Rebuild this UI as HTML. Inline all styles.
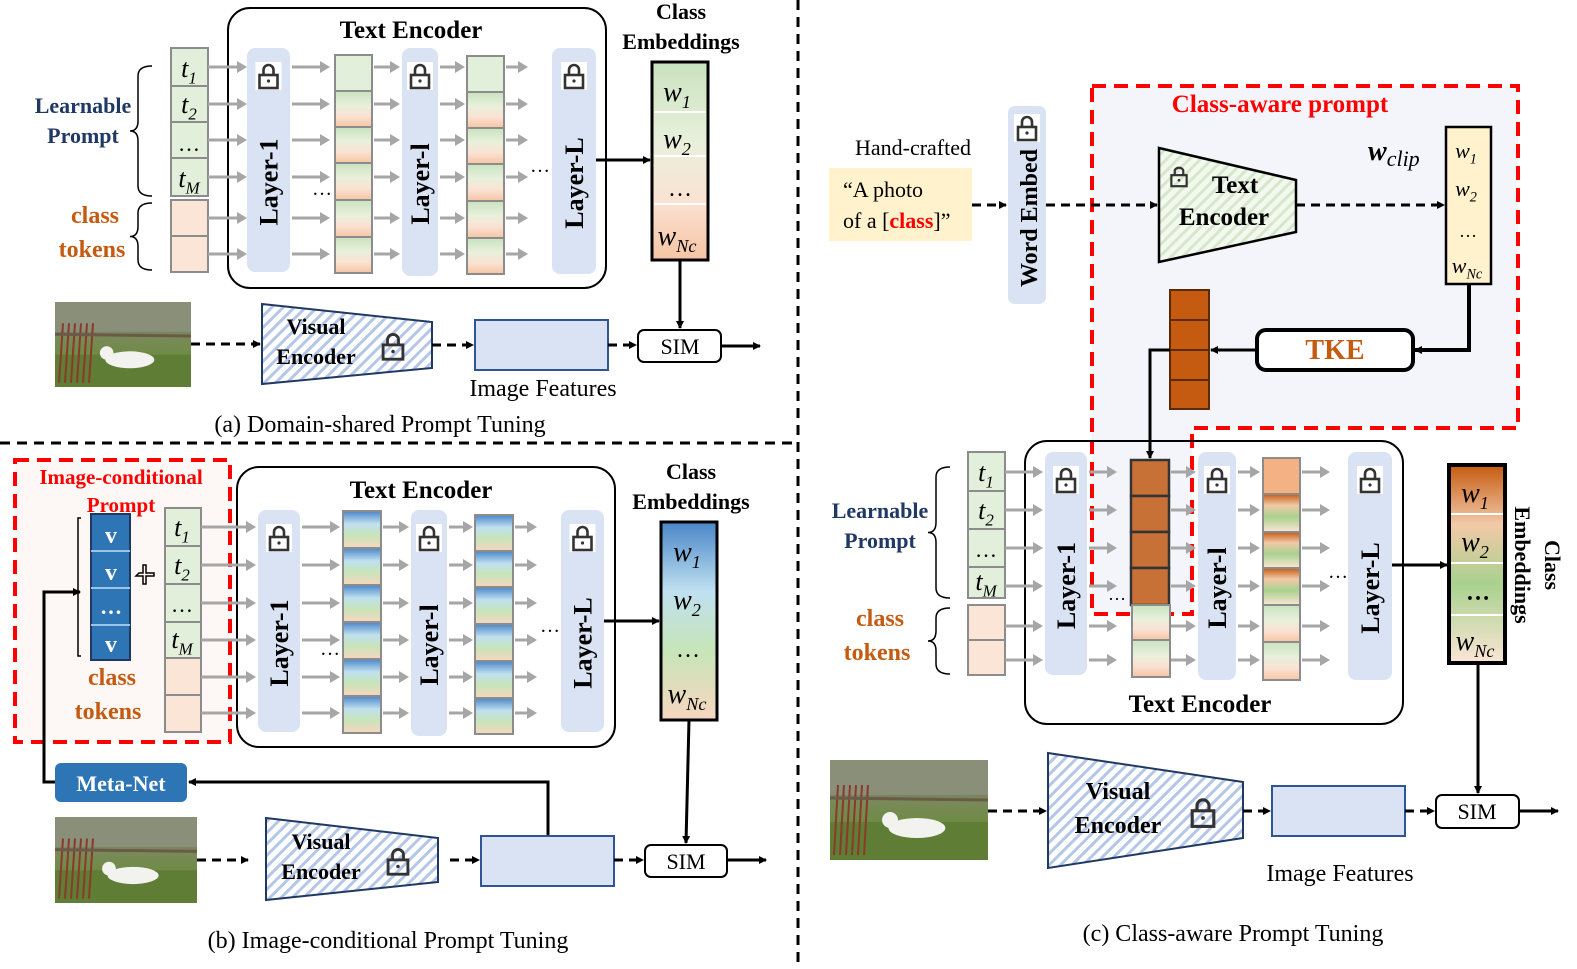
<!DOCTYPE html>
<html><head><meta charset="utf-8"><style>
html,body{margin:0;padding:0;background:#fff;}
svg{display:block;font-family:"Liberation Serif",serif;}
.b{font-weight:bold;}
</style></head><body>
<svg id="s" width="1577" height="969" viewBox="0 0 1577 969" xmlns="http://www.w3.org/2000/svg">
<defs>
<linearGradient id="gp" x1="0" y1="0" x2="0" y2="1"><stop offset="0" stop-color="#c9e3bf"/><stop offset="0.4" stop-color="#e8f0dc"/><stop offset="0.7" stop-color="#fbe2d2"/><stop offset="1" stop-color="#f6c4a4"/></linearGradient>
<linearGradient id="gb" x1="0" y1="0" x2="0" y2="1"><stop offset="0" stop-color="#4a86c8"/><stop offset="0.35" stop-color="#bfe0f0"/><stop offset="0.65" stop-color="#c7e5b8"/><stop offset="1" stop-color="#f7d6c0"/></linearGradient>
<linearGradient id="gr" x1="0" y1="0" x2="0" y2="1"><stop offset="0" stop-color="#c55a11"/><stop offset="0.3" stop-color="#f2c9a8"/><stop offset="0.6" stop-color="#a9d18e"/><stop offset="1" stop-color="#fbe5d6"/></linearGradient>
<pattern id="hb" width="8" height="8" patternUnits="userSpaceOnUse" patternTransform="rotate(45)"><rect width="8" height="8" fill="#fff"/><rect width="3" height="8" fill="#b4c7e7"/></pattern>
<pattern id="hg" width="8" height="8" patternUnits="userSpaceOnUse" patternTransform="rotate(45)"><rect width="8" height="8" fill="#f4f9f0"/><rect width="3" height="8" fill="#d5e8cc"/></pattern>
<linearGradient id="ph" x1="0" y1="0" x2="0" y2="1"><stop offset="0" stop-color="#5a6a4a"/><stop offset="0.4" stop-color="#7a8a5a"/><stop offset="0.7" stop-color="#6b8a3e"/><stop offset="1" stop-color="#4f6b2e"/></linearGradient>
<marker id="ma" markerWidth="8" markerHeight="8" refX="7" refY="4" orient="auto" markerUnits="userSpaceOnUse"><path d="M0,0 L8,4 L0,8 z" fill="#000"/></marker>
</defs>
<g id="g"></g>

<line x1="798" y1="0" x2="798" y2="969" stroke="#000" stroke-width="3" stroke-dasharray="10,7"/>
<line x1="0" y1="443" x2="798" y2="443" stroke="#000" stroke-width="3" stroke-dasharray="10,7"/>

<path d="M1092,86 L1518,86 L1518,428 L1192,428 L1192,614 L1092,614 Z" fill="#f3f5fb" stroke="#ff0000" stroke-width="4" stroke-dasharray="14,8"/>
<rect x="15" y="460" width="215" height="282" fill="#fdf7f5" stroke="#ff0000" stroke-width="4" stroke-dasharray="14,8"/>

<g id="g2"></g>

<text x="411" y="38" font-size="25" class="b" text-anchor="middle">Text Encoder</text>
<text x="681" y="19" font-size="22" class="b" text-anchor="middle">Class</text>
<text x="681" y="49" font-size="22" class="b" text-anchor="middle">Embeddings</text>
<text x="83" y="113" font-size="22" class="b" fill="#1f3864" text-anchor="middle">Learnable</text>
<text x="83" y="143" font-size="22" class="b" fill="#1f3864" text-anchor="middle">Prompt</text>
<text x="95" y="223" font-size="24" class="b" fill="#c55a11" text-anchor="middle">class</text>
<text x="92" y="257" font-size="24" class="b" fill="#c55a11" text-anchor="middle">tokens</text>
<text x="316" y="334" font-size="22" class="b" text-anchor="middle">Visual</text>
<text x="316" y="364" font-size="22" class="b" text-anchor="middle">Encoder</text>
<text x="680" y="354" font-size="22" text-anchor="middle">SIM</text>
<text x="543" y="396" font-size="24" text-anchor="middle">Image Features</text>
<text x="380" y="432" font-size="24" text-anchor="middle">(a) Domain-shared Prompt Tuning</text>

<text x="421" y="498" font-size="25" class="b" text-anchor="middle">Text Encoder</text>
<text x="691" y="479" font-size="22" class="b" text-anchor="middle">Class</text>
<text x="691" y="509" font-size="22" class="b" text-anchor="middle">Embeddings</text>
<text x="121" y="484" font-size="21" class="b" fill="#ff0000" text-anchor="middle">Image-conditional</text>
<text x="121" y="512" font-size="21" class="b" fill="#ff0000" text-anchor="middle">Prompt</text>
<text x="112" y="685" font-size="24" class="b" fill="#c55a11" text-anchor="middle">class</text>
<text x="108" y="719" font-size="24" class="b" fill="#c55a11" text-anchor="middle">tokens</text>
<text x="321" y="849" font-size="22" class="b" text-anchor="middle">Visual</text>
<text x="321" y="879" font-size="22" class="b" text-anchor="middle">Encoder</text>
<text x="686" y="869" font-size="22" text-anchor="middle">SIM</text>
<text x="388" y="948" font-size="24" text-anchor="middle">(b) Image-conditional Prompt Tuning</text>

<text x="1280" y="112" font-size="25" class="b" fill="#ff0000" text-anchor="middle">Class-aware prompt</text>
<text x="913" y="155" font-size="22" text-anchor="middle">Hand-crafted</text>
<text x="1235" y="193" font-size="25" class="b" text-anchor="middle">Text</text>
<text x="1224" y="225" font-size="25" class="b" text-anchor="middle">Encoder</text>
<text x="1335" y="359" font-size="28" class="b" fill="#c55a11" text-anchor="middle">TKE</text>
<text x="1200" y="712" font-size="25" class="b" text-anchor="middle">Text Encoder</text>
<text x="880" y="518" font-size="22" class="b" fill="#1f3864" text-anchor="middle">Learnable</text>
<text x="880" y="548" font-size="22" class="b" fill="#1f3864" text-anchor="middle">Prompt</text>
<text x="880" y="626" font-size="24" class="b" fill="#c55a11" text-anchor="middle">class</text>
<text x="877" y="660" font-size="24" class="b" fill="#c55a11" text-anchor="middle">tokens</text>
<text x="1118" y="799" font-size="24" class="b" text-anchor="middle">Visual</text>
<text x="1118" y="833" font-size="24" class="b" text-anchor="middle">Encoder</text>
<text x="1477" y="819" font-size="22" text-anchor="middle">SIM</text>
<text x="1340" y="881" font-size="24" text-anchor="middle">Image Features</text>
<text x="1233" y="941" font-size="24" text-anchor="middle">(c) Class-aware Prompt Tuning</text>
<text transform="translate(1545,565) rotate(90)" font-size="22" class="b" text-anchor="middle">Class</text>
<text transform="translate(1515,565) rotate(90)" font-size="22" class="b" text-anchor="middle">Embeddings</text>
<text x="1368" y="160" font-size="28" font-style="italic" class="b">w<tspan font-size="22" font-weight="normal" dy="6">clip</tspan></text>
<text x="829" y="197" font-size="22" dx="14">“A photo</text>
<text x="843" y="228" font-size="22">of a [<tspan fill="#ff0000" class="b">class</tspan>]”</text>
</svg>
<script>
(function(){
var NS="http://www.w3.org/2000/svg",G=document.getElementById('g'),G2=document.getElementById('g2');
function el(t,a,p){var e=document.createElementNS(NS,t);for(var k in a)e.setAttribute(k,a[k]);(p||G2).appendChild(e);return e;}
function R(x,y,w,h,f,s,sw,rx,p){return el('rect',{x:x,y:y,width:w,height:h,fill:f,stroke:s||'none','stroke-width':sw||0,rx:rx||0},p);}
function T(x,y,s,sz,o){o=o||{};var a={x:x,y:y,'font-size':sz,'text-anchor':o.a||'middle'};if(o.b)a['font-weight']='bold';if(o.i)a['font-style']='italic';if(o.f)a.fill=o.f;if(o.tr)a.transform=o.tr;var e=el('text',a);e.textContent=s;return e;}
function SUBT(x,y,base,sub,sz,f){var e=el('text',{x:x,y:y,'font-size':sz,'font-style':'italic','text-anchor':'middle',fill:f||'#000'});var t1=document.createElementNS(NS,'tspan');t1.textContent=base;e.appendChild(t1);if(sub){var t2=document.createElementNS(NS,'tspan');t2.setAttribute('font-size',sz*0.65);t2.setAttribute('dy',sz*0.25);t2.textContent=sub;e.appendChild(t2);}return e;}
function ga(x1,y,x2){el('line',{x1:x1,y1:y,x2:x2-8,y2:y,stroke:'#a6a6a6','stroke-width':3});el('path',{d:'M'+(x2-10)+','+(y-6)+' L'+x2+','+y+' L'+(x2-10)+','+(y+6)+' z',fill:'#a6a6a6'});}
function L(pts,o){o=o||{};var a={points:pts,fill:'none',stroke:'#000','stroke-width':o.w||3};if(o.d)a['stroke-dasharray']='9,6';if(o.m)a['marker-end']='url(#ma)';el('polyline',a);}
function lock(cx,cy,bg,sc){sc=sc||1;if(bg)R(cx-13*sc,cy-14*sc,26*sc,28*sc,'#fff');el('path',{d:'M'+(cx-5*sc)+','+(cy-1*sc)+' v-5 a5,5 0 0 1 '+(10*sc)+',0 v5',fill:'none',stroke:'#333','stroke-width':2.6*sc});R(cx-9*sc,cy-1*sc,18*sc,13*sc,'none','#333',2.6*sc);el('circle',{cx:cx,cy:cy+5*sc,r:1.6*sc,fill:'#333'});}
function layer(x,y,w,h,lab){R(x,y,w,h,'#dae3f3','none',0,8);lock(x+w/2,y+28,true);T(0,0,lab,26,{b:1,tr:'translate('+(x+w/2+9)+','+(y+h/2+22)+') rotate(-90)'});}
function col(x,ys,w,fills,st,sw){for(var i=0;i<ys.length-1;i++)R(x,ys[i],w,ys[i+1]-ys[i],fills[i]||fills[0],st||'#8c8c8c',sw||2);}
function brace(x,y1,y2){var m=(y1+y2)/2;el('path',{d:'M'+x+','+y1+' q-14,0 -14,10 v'+(m-y1-20)+' q0,10 -8,10 q8,0 8,10 v'+(y2-m-20)+' q0,10 14,10',fill:'none',stroke:'#000','stroke-width':1.5});}
function photo(x,y,w,h){R(x,y,w,h,'url(#ph)');R(x,y,w,h*0.35,'#8a8f7a');R(x,y+h*0.62,w,h*0.38,'#5f7d35');for(var i=0;i<6;i++)el('line',{x1:x+8+i*6,y1:y+h*0.25,x2:x+4+i*6,y2:y+h*0.95,stroke:'#8b3a2a','stroke-width':2});el('line',{x1:x,y1:y+h*0.38,x2:x+w,y2:y+h*0.4,stroke:'#6b5a4a','stroke-width':3});el('ellipse',{cx:x+w*0.55,cy:y+h*0.68,rx:w*0.18,ry:h*0.1,fill:'#f2f2ee'});el('circle',{cx:x+w*0.38,cy:y+h*0.6,r:h*0.08,fill:'#f2f2ee'});}
function trap(pts,fill){el('polygon',{points:pts,fill:fill,stroke:'#1f3864','stroke-width':2});}

R(228,8,378,280,'#fff','#000',2,22);
var ya=[48,86,122,158,196];col(171,ya,37,['#e2efda']);
col(171,[200,236,272],37,['#fbe5d6']);
SUBT(189,77,'t','1',26);SUBT(189,113,'t','2',26);T(189,151,'…',22);SUBT(189,187,'t','M',26);
brace(152,66,196);brace(152,203,270);
var ra=[67,104,140,177,218,254];
ra.forEach(function(y){ga(208,y,247);ga(292,y,330);ga(374,y,400);ga(440,y,465);ga(506,y,528);});
layer(247,48,43,224,'Layer-1');layer(402,48,36,228,'Layer-l');layer(552,48,44,226,'Layer-L');
col(335,[55,91,127,163,200,237,273],37,['#e2efda','url(#gp)','url(#gp)','url(#gp)','url(#gp)','url(#gp)']);
col(467,[56,92,128,164,201,238,274],37,['#e2efda','url(#gp)','url(#gp)','url(#gp)','url(#gp)','url(#gp)']);
T(322,195,'…',20);T(540,172,'…',20);
R(652,62,56,198,'url(#gp)','#000',3);
[112,156,204].forEach(function(y){el('line',{x1:654,y1:y,x2:706,y2:y,stroke:'#fff','stroke-width':2});});
SUBT(677,101,'w','1',28);SUBT(677,148,'w','2',28);T(680,196,'…',24);SUBT(677,245,'w','Nc',28);
L('596,160 650,160',{m:1});L('680,260 680,328',{m:1});
photo(55,302,136,85);
trap('262,304 432,322 432,368 262,384','url(#hb)');lock(393,346,false,1.1);
R(475,320,133,50,'#dae3f3','#2f5597',2);
R(638,330,83,32,'#fff','#000',2,6);
L('191,344 260,344',{d:1,m:1});L('432,345 473,345',{d:1,m:1});L('608,345 636,345',{d:1,m:1});L('721,346 760,346',{m:1});

R(237,467,378,280,'#fff','#000',2,22);
col(165,[508,546,584,622,658],36,['#e2efda']);col(165,[658,695,732],36,['#fbe5d6']);
SUBT(182,536,'t','1',26);SUBT(182,574,'t','2',26);T(182,612,'…',22);SUBT(182,648,'t','M',26);
R(91,514,39,146,'#2e75b6','#1f3864',2);
[514,551,588,625].forEach(function(y,i){if(i)el('line',{x1:91,y1:y,x2:130,y2:y,stroke:'#9dc3e6','stroke-width':2});});
T(111,543,'v',24,{b:1,f:'#fff'});T(111,580,'v',24,{b:1,f:'#fff'});T(111,614,'…',22,{b:1,f:'#fff'});T(111,652,'v',24,{b:1,f:'#fff'});
el('path',{d:'M81,518 h-3 v138 h3',fill:'none',stroke:'#000','stroke-width':1.5});
el('path',{d:'M139,573 h4 v-8 h3 v8 h8 v3 h-8 v8 h-3 v-8 h-7z',fill:'none',stroke:'#000','stroke-width':1.5});
var rb=[527,565,603,640,677,713];
rb.forEach(function(y){ga(201,y,256);ga(302,y,340);ga(383,y,409);ga(449,y,473);ga(515,y,537);});
layer(258,510,42,222,'Layer-1');layer(411,510,36,226,'Layer-l');layer(561,510,43,222,'Layer-L');
col(343,[511,548,585,622,659,696,733],38,['url(#gb)']);
col(475,[515,551,587,624,661,698,734],38,['url(#gb)']);
T(330,655,'…',20);T(550,632,'…',20);
R(661,522,56,198,'url(#gb)','#000',3);
SUBT(687,561,'w','1',28);SUBT(687,609,'w','2',28);T(688,657,'…',24);SUBT(687,703,'w','Nc',28);
L('604,621 659,621',{m:1});L('689,720 686,843',{m:1});
R(55,763,132,39,'#2e75b6','none',0,6);T(121,791,'Meta-Net',22,{b:1,f:'#fff'});
L('548,836 548,782 189,782',{m:1});L('55,782 44,782 44,592 80,592',{m:1});
photo(55,817,142,86);
trap('266,818 438,838 438,882 266,900','url(#hb)');lock(398,861,false,1.1);
R(481,836,133,50,'#dae3f3','#2f5597',2);
R(645,845,82,32,'#fff','#000',2,6);
L('197,860 248,860',{d:1,m:1});L('450,860 479,860',{d:1,m:1});L('614,860 643,860',{d:1,m:1});L('727,860 766,860',{m:1});

R(829,168,143,73,'#fff2cc');
R(1008,106,38,198,'#dae3f3','none',0,7);lock(1027,128,true);T(0,0,'Word Embed',24,{b:1,tr:'translate(1037,218) rotate(-90)'});
L('972,205 1006,205',{d:1,m:1});L('1046,205 1157,205',{d:1,m:1});
trap('1159,148 1296,180 1296,232 1159,262','url(#hg)');el('polygon',{points:'1159,148 1296,180 1296,232 1159,262',fill:'none',stroke:'#000','stroke-width':2.5});
lock(1179,176,false,0.85);
L('1296,205 1444,205',{d:1,m:1});
R(1446,127,45,157,'#fff2cc','#000',2.5);
SUBT(1466,158,'w','1',22);SUBT(1466,196,'w','2',22);T(1468,237,'…',18);SUBT(1467,273,'w','Nc',22);
R(1257,330,156,40,'#fff','#000',4,9);
L('1469,284 1469,350 1415,350',{w:4,m:1});L('1257,350 1211,350',{w:3,m:1});
col(1170,[290,320,350,380,409],39,['#c55a11'],'#5a2a0a',2);
L('1170,350 1150,350 1150,458',{w:3,m:1});
R(1025,441,378,283,'none','#000',2,22);
col(968,[452,491,529,567,598],37,['#e2efda']);col(968,[605,640,675],37,['#fbe5d6']);
SUBT(986,481,'t','1',26);SUBT(986,519,'t','2',26);T(986,557,'…',22);SUBT(986,590,'t','M',26);
brace(950,467,598);brace(950,608,674);
var rc=[472,510,548,586,626,660];
rc.forEach(function(y){ga(1005,y,1043);ga(1089,y,1117);ga(1171,y,1196);ga(1238,y,1260);ga(1302,y,1330);});
layer(1045,452,42,223,'Layer-1');layer(1198,452,38,228,'Layer-l');layer(1348,452,44,228,'Layer-L');
col(1131,[460,496,532,568,605],38,['#c87137'],'#333',2.5);
col(1132,[605,640,677],38,['url(#gp)']);
col(1263,[458,494,532,568,605,642,680],37,['#f4b183','url(#gr)','url(#gr)','url(#gr)','url(#gp)','url(#gp)']);
T(1117,600,'…',18);T(1338,578,'…',20);
R(1449,465,56,198,'url(#gr)','#000',4);
[514,563,615].forEach(function(y){el('line',{x1:1451,y1:y,x2:1503,y2:y,stroke:'#fff','stroke-width':2});});
SUBT(1475,502,'w','1',28);SUBT(1475,551,'w','2',28);T(1478,600,'…',24,{b:1});SUBT(1475,650,'w','Nc',28);
L('1392,565 1447,565',{m:1});L('1478,663 1478,793',{m:1});
photo(830,760,158,100);
trap('1048,753 1243,782 1243,838 1048,868','url(#hb)');lock(1203,812,false,1.2);
R(1272,786,133,50,'#dae3f3','#2f5597',2);
R(1436,795,83,33,'#fff','#000',2,6);
L('988,811 1046,811',{d:1,m:1});L('1243,811 1270,811',{d:1,m:1});L('1405,811 1434,811',{d:1,m:1});L('1519,811 1558,811',{m:1});
})();
</script>
</body></html>
